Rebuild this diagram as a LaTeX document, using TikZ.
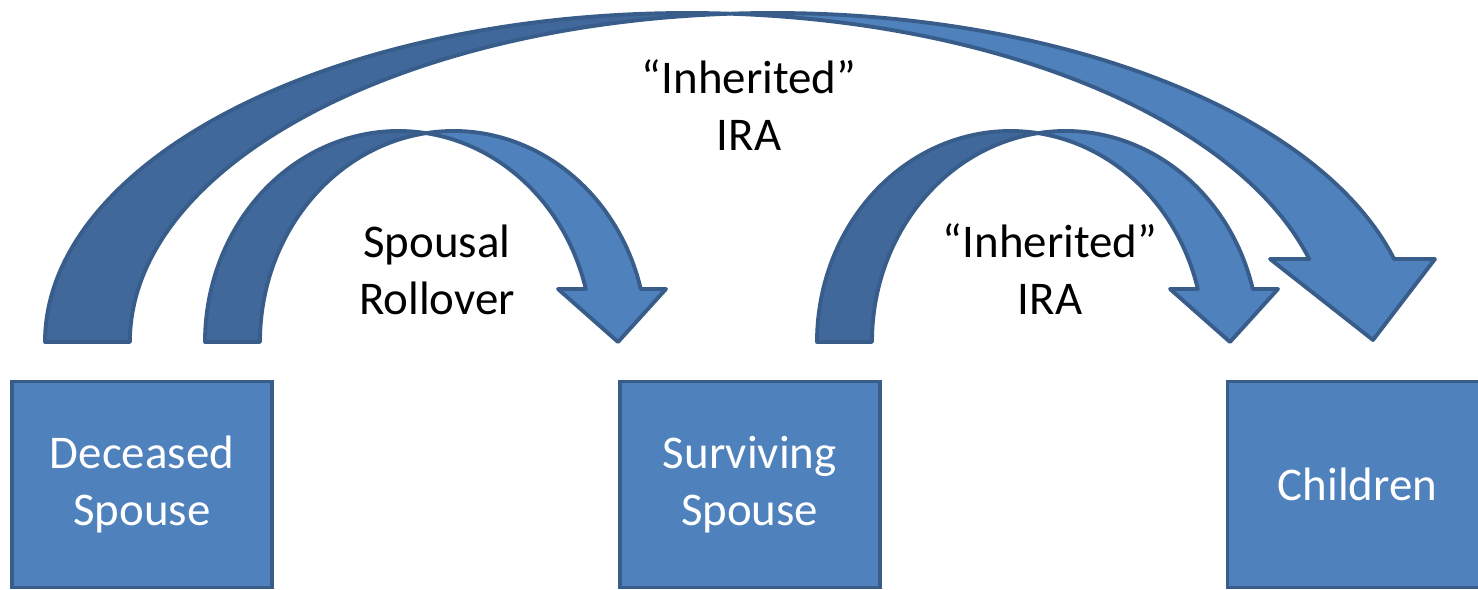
\documentclass[tikz,border=0pt]{standalone}
\usepackage{fontspec}
\setmainfont{Carlito}
\usepackage{tikz}
\usetikzlibrary{positioning}
\definecolor{myblue}{RGB}{79,129,189}
\definecolor{myshade}{RGB}{65,104,155}
\definecolor{myedge}{RGB}{56,93,138}
\tikzset{
  acctbox/.style={rectangle, draw=myedge, fill=myblue, text=white,
    minimum width=5.2cm, minimum height=4.12cm, align=center,
    font=\fontsize{26.7}{32.4}\selectfont, line width=2.2pt, inner sep=0pt},
  backband/.style={draw=myedge, fill=myshade, line width=2.2pt, line join=round},
  frontband/.style={draw=myedge, fill=myblue, line width=2.2pt, line join=round},
  flowlabel/.style={align=center, font=\fontsize{26.7}{32.4}\selectfont, inner sep=0pt}
}
\begin{document}
\begin{tikzpicture}[x=0.02cm, y=0.02cm]
  \useasboundingbox (0,0) rectangle (1478,590);
  % account holders
  \node[acctbox] (deceased) at (142,105.5) {Deceased\\Spouse};
  \node[acctbox, right=6.88cm of deceased] (surviving) {Surviving\\Spouse};
  \node[acctbox, right=6.88cm of surviving] (children) {Children};
  % feet of the curved arrows
  \coordinate (bigfoot) at (45,248);
  \coordinate (rollfoot) at (205,248);
  \coordinate (inhfoot) at (817,248);
  % big arc: deceased spouse -> children
  \draw[backband] (bigfoot) arc[start angle=180, end angle=86.21, x radius=642.5, y radius=329] coordinate (bigtop)
    arc[start angle=93.79, end angle=180, x radius=642.5, y radius=329] -- cycle;
  \draw[frontband] (bigtop) arc[start angle=93.79, end angle=14.61, x radius=642.5, y radius=329]
    -- (1435,331) -- (1373,250) -- (1270,331) -- (1309.2,331)
    arc[start angle=14.61, end angle=86.21, x radius=642.5, y radius=329] -- cycle;
  % spousal rollover: deceased -> surviving
  \draw[backband] (rollfoot) arc[start angle=180, end angle=81.83, x radius=193.5, y radius=211] coordinate (rolltop)
    arc[start angle=98.17, end angle=180, x radius=193.5, y radius=211] -- cycle;
  \draw[frontband] (rolltop) arc[start angle=98.17, end angle=14.55, x radius=193.5, y radius=211]
    -- (666,301) -- (618,248) -- (558,301) -- (585.8,301)
    arc[start angle=14.55, end angle=81.83, x radius=193.5, y radius=211] -- cycle;
  % inherited: surviving -> children
  \draw[backband] (inhfoot) arc[start angle=180, end angle=81.83, x radius=193.5, y radius=211] coordinate (inhtop)
    arc[start angle=98.17, end angle=180, x radius=193.5, y radius=211] -- cycle;
  \draw[frontband] (inhtop) arc[start angle=98.17, end angle=14.55, x radius=193.5, y radius=211]
    -- (1278,301) -- (1230,248) -- (1170,301) -- (1197.8,301)
    arc[start angle=14.55, end angle=81.83, x radius=193.5, y radius=211] -- cycle;
  % labels
  \node[flowlabel] (biglabel) at (749,485) {“Inherited”\\IRA};
  \node[flowlabel] (rolllabel) at (437,320) {Spousal\\Rollover};
  \node[flowlabel] (inhlabel) at (1050,321) {“Inherited”\\IRA};
\end{tikzpicture}
\end{document}
